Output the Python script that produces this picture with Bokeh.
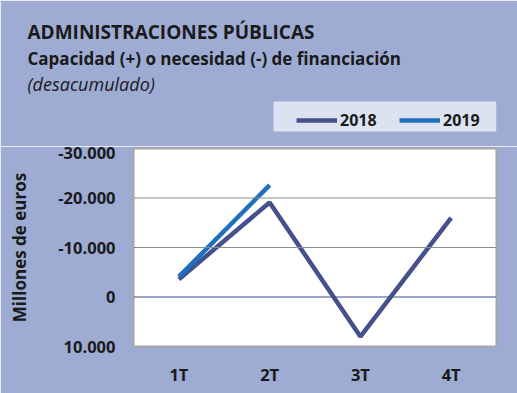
from bokeh.plotting import figure
from bokeh.layouts import column
from bokeh.models import (Range1d, FixedTicker, Legend, LegendItem, Span, Title,
                          BoxAnnotation, ColumnDataSource)
from bokeh.embed import file_html
from bokeh.resources import INLINE

quarters = ["1T", "2T", "3T", "4T"]
s2018 = [-3600, -19100, 8000, -16000]
s2019 = [-4100, -22600]
y_ticks = [-30000, -20000, -10000, 0, 10000]
y_tick_labels = ["-30.000", "-20.000", "-10.000", "0", "10.000"]
series_names = ["2018", "2019"]
series_colors = ["#44518c", "#1f6fbd"]

BG = "#9eacd4"
FONT = "Open Sans"
TXT = "#1a1a1a"
W = 517
TOP_H = 146
BOT_H = 393 - TOP_H
FL, FR = 133, 21  # frame borders left / right

# ---------- header (titles + legend) ----------
head = figure(width=W, height=TOP_H, x_range=Range1d(0, 1), y_range=Range1d(0, 1),
              x_axis_type=None, y_axis_type=None, output_backend="svg",
              toolbar_location=None, min_border_left=FL, min_border_right=FR,
              min_border_top=0, min_border_bottom=0)
head.title.visible = False
head.background_fill_color = BG
head.border_fill_color = BG
head.outline_line_color = BG
head.outline_line_width = 2
head.grid.visible = False

titles = [("(desacumulado)", "18px", "italic", 0),
          ("Capacidad (+) o necesidad (-) de financiación", "17px", "bold", 0),
          ("ADMINISTRACIONES PÚBLICAS", "19px", "bold", 0)]
for txt, size, style, so in titles:
    head.add_layout(Title(text=txt, align="left", offset=27 - FL, standoff=so,
                          text_font=FONT, text_font_size=size, text_font_style=style,
                          text_color=TXT), "above")
head.add_layout(Title(text=" ", text_font_size="11px", standoff=1.5, text_color=BG), "above")

head.add_layout(BoxAnnotation(left=273 - FL, right=W - FR - FL, bottom=TOP_H - 131, top=TOP_H - 101,
                              left_units="screen", right_units="screen",
                              top_units="screen", bottom_units="screen",
                              fill_color="#dde2f0", fill_alpha=1, line_color=None))
# legend helpers: same series, but far outside the header's range (never visible there)
helper18 = head.line(list(range(len(s2018))), s2018, line_color=series_colors[0], line_width=4.5)
helper19 = head.line(list(range(len(s2019))), s2019, line_color=series_colors[1], line_width=4.5)
head.add_layout(Legend(items=[LegendItem(label=series_names[0], renderers=[helper18]),
                              LegendItem(label=series_names[1], renderers=[helper19])],
                       orientation="horizontal", location=(296 - FL, TOP_H - 131),
                       background_fill_alpha=0, border_line_color=None,
                       label_text_font=FONT, label_text_font_style="bold",
                       label_text_font_size="16px", label_text_color=TXT,
                       glyph_width=41, glyph_height=20, label_height=20,
                       label_standoff=3, spacing=9, label_width=50,
                       padding=5, margin=0), "center")

# ---------- chart ----------
p = figure(width=W, height=BOT_H, x_range=quarters, y_range=Range1d(10000, -30000),
           output_backend="svg", toolbar_location=None,
           min_border_left=FL, min_border_right=FR, min_border_top=2, min_border_bottom=47)
p.title.visible = False
p.background_fill_color = "white"
p.border_fill_color = BG
p.outline_line_color = "#a6a6a6"
p.outline_line_width = 2

p.xgrid.grid_line_color = None
p.ygrid.grid_line_color = None
p.yaxis.ticker = FixedTicker(ticks=y_ticks)
p.yaxis.major_label_overrides = {t: l for t, l in zip(y_ticks, y_tick_labels)}

for ax in (p.xaxis, p.yaxis):
    ax.axis_line_color = None
    ax.major_tick_line_color = None
    ax.minor_tick_line_color = None
    ax.major_tick_out = 0
    ax.major_tick_in = 0
    ax.minor_tick_out = 0
    ax.major_label_text_font = FONT
    ax.major_label_text_font_style = "bold"
    ax.major_label_text_font_size = "16.5px"
    ax.major_label_text_color = TXT
p.yaxis.major_label_standoff = 18
p.xaxis.major_label_standoff = 16
p.yaxis.axis_label = "Millones de euros"
p.yaxis.axis_label_text_font = FONT
p.yaxis.axis_label_text_font_style = "bold"
p.yaxis.axis_label_text_font_size = "17px"
p.yaxis.axis_label_text_color = TXT
p.yaxis.axis_label_standoff = 24

for v in (-20000, -10000):
    p.add_layout(Span(location=v, dimension="width", line_color="#8c8c8c", line_width=1))
p.add_layout(Span(location=0, dimension="width", line_color="#3f4d8a", line_width=1))

src18 = ColumnDataSource(dict(x=quarters, y=s2018))
src19 = ColumnDataSource(dict(x=quarters[:len(s2019)], y=s2019))
p.line("x", "y", source=src18, line_color=series_colors[0], line_width=4.5)
p.line("x", "y", source=src19, line_color=series_colors[1], line_width=4.5)

layout = column(head, p, spacing=0)
open("out.html", "w").write(file_html(layout, INLINE))
